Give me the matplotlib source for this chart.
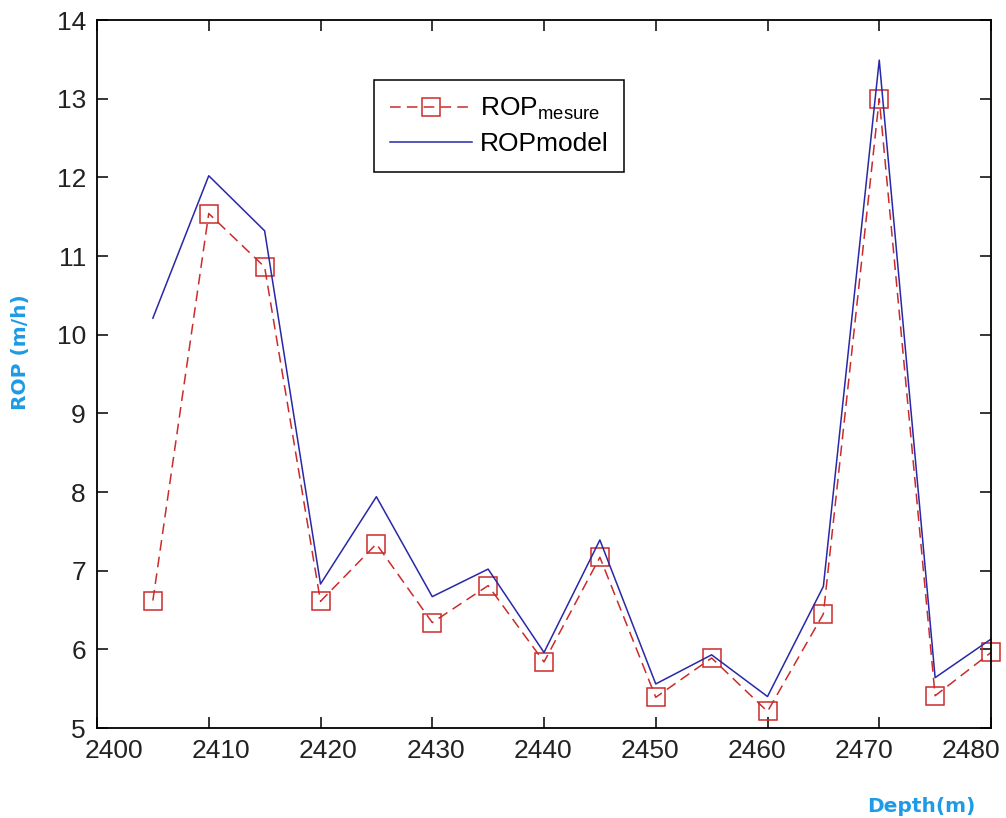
import matplotlib
matplotlib.use("Agg")
import matplotlib.pyplot as plt
import matplotlib.transforms as mtransforms

plt.rcParams['font.family'] = ['Liberation Sans', 'DejaVu Sans']
plt.rcParams['mathtext.fontset'] = 'custom'
plt.rcParams['mathtext.rm'] = 'Liberation Sans'
plt.rcParams['mathtext.it'] = 'Liberation Sans'

depth = [2405, 2410, 2415, 2420, 2425, 2430, 2435, 2440, 2445, 2450,
         2455, 2460, 2465, 2470, 2475, 2480]
rop_mesure = [6.62, 11.54, 10.86, 6.61, 7.34, 6.34, 6.81, 5.84, 7.17, 5.39,
              5.89, 5.21, 6.45, 13.0, 5.41, 5.96]
rop_model = [10.21, 12.02, 11.32, 6.83, 7.94, 6.67, 7.02, 5.96, 7.39, 5.56,
             5.93, 5.40, 6.80, 13.49, 5.64, 6.13]
xticks = [2400, 2410, 2420, 2430, 2440, 2450, 2460, 2470, 2480]
yticks = [5, 6, 7, 8, 9, 10, 11, 12, 13, 14]

fig = plt.figure(figsize=(10.06, 8.18), dpi=100)
ax = fig.add_axes([97 / 1006, 1 - 728 / 818, (991 - 97) / 1006, (728 - 20) / 818])

red = '#CC2B2B'
blue = '#2828A8'
ax.plot(depth, rop_mesure, color=red, linestyle='--', dashes=(7, 4), lw=1.1,
        marker='s', markersize=13, markerfacecolor='none', markeredgecolor=red,
        markeredgewidth=1.1, label=r'ROP$_{\mathrm{mesure}}$', clip_on=False)
ax.plot(depth, rop_model, color=blue, lw=1.1, label='ROPmodel', clip_on=False)

ax.set_xlim(2400, 2480)
ax.set_ylim(5, 14)
ax.set_xticks(xticks)
ax.set_yticks(yticks)
ax.tick_params(direction='in', length=8, width=1.1, top=True, right=True,
               labelsize=19, labelcolor='#222222', pad=8)
for s in ax.spines.values():
    s.set_linewidth(1.3)
    s.set_color('black')

# shift x tick labels to match reference label placement
for i, lab in enumerate(ax.get_xticklabels()):
    dx = (17 - 4.6 * i) / 100.0
    off = mtransforms.ScaledTranslation(dx, 0, fig.dpi_scale_trans)
    lab.set_transform(lab.get_transform() + off)

ax.set_ylabel('ROP (m/h)', family='DejaVu Sans', fontweight='bold',
              fontsize=14.5, color='#1E9BE6')
ax.yaxis.set_label_coords(30 / 1006, 1 - 352 / 818, transform=fig.transFigure)
fig.text(921 / 1006, 1 - 806 / 818, 'Depth(m)', family='DejaVu Sans',
         fontweight='bold', fontsize=14.5, color='#1E9BE6',
         ha='center', va='center')

leg = ax.legend(loc='upper left', bbox_to_anchor=((374 - 97) / 894, (728 - 80) / 708),
                borderaxespad=0, fontsize=19, handlelength=3.1, handletextpad=0.3,
                borderpad=0.6, labelspacing=0.38, fancybox=False, framealpha=1,
                edgecolor='black')
leg.get_frame().set_linewidth(1.1)

fig.savefig('out.png', dpi=100)
